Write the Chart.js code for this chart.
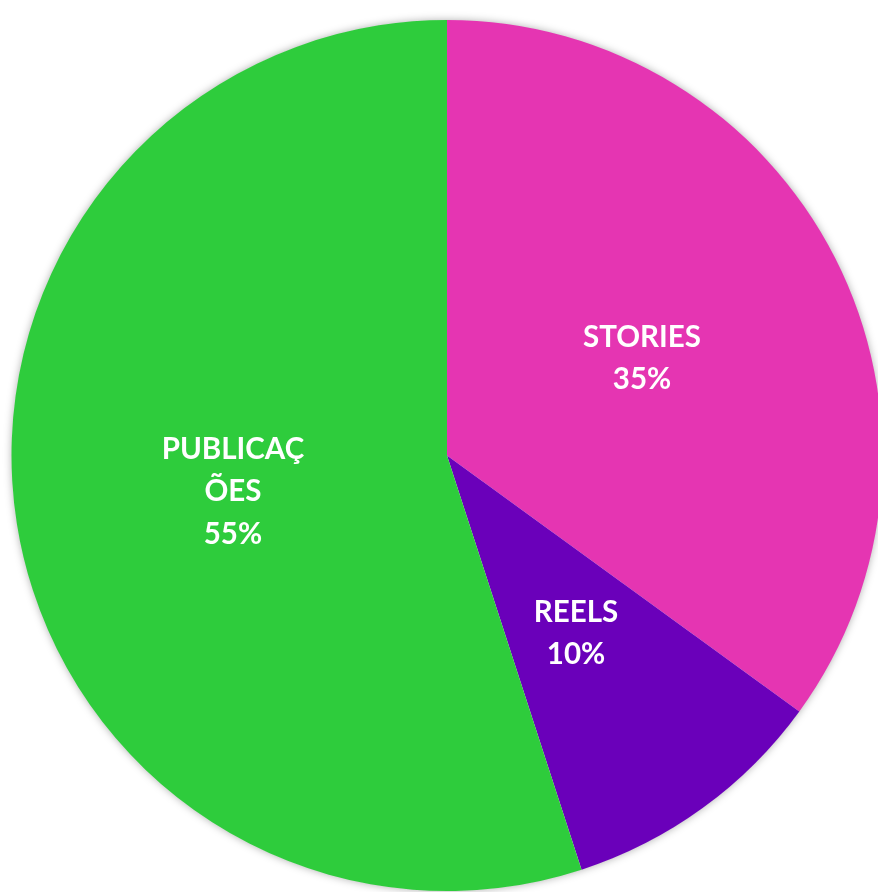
<!DOCTYPE html>
<html>
<head>
<meta charset="utf-8">
<script src="https://cdn.jsdelivr.net/npm/chart.js@4"></script>
<style>
html,body{margin:0;padding:0;background:#fff;overflow:hidden;}
#wrap{position:absolute;left:0;top:0;width:894px;height:892px;}
</style>
</head>
<body>
<div id="wrap"><canvas id="c" width="894" height="892"></canvas></div>
<script>
const categories = ['STORIES', 'REELS', 'PUBLICAÇÕES'];
const values = [35, 10, 55];
const colors = ['#E535B2', '#6A00BA', '#2ECC3C'];

function wrap(text, maxChars) {
  const out = [];
  for (let i = 0; i < text.length; i += maxChars) out.push(text.slice(i, i + maxChars));
  return out;
}

const shadowPlugin = {
  id: 'shadow',
  beforeDatasetsDraw(chart) {
    const arc = chart.getDatasetMeta(0).data[0];
    if (!arc) return;
    const ctx = chart.ctx;
    ctx.save();
    ctx.shadowColor = 'rgba(0,0,0,0.35)';
    ctx.shadowBlur = 8;
    ctx.fillStyle = '#ffffff';
    ctx.beginPath();
    ctx.arc(arc.x, arc.y, arc.outerRadius - 0.5, 0, Math.PI * 2);
    ctx.fill();
    ctx.restore();
  }
};

const labelPlugin = {
  id: 'sliceLabels',
  afterDatasetsDraw(chart) {
    const ctx = chart.ctx;
    const meta = chart.getDatasetMeta(0);
    const total = values.reduce((a, b) => a + b, 0);
    ctx.save();
    ctx.fillStyle = '#ffffff';
    ctx.font = 'bold 29.5px Lato, "Liberation Sans", sans-serif';
    ctx.textAlign = 'center';
    ctx.textBaseline = 'middle';
    const lh = 42.5;
    meta.data.forEach((arc, i) => {
      const p = arc.tooltipPosition();
      const lines = wrap(categories[i], 8);
      lines.push(Math.round(values[i] / total * 100) + '%');
      const startY = p.y + 2 - (lines.length - 1) * lh / 2;
      lines.forEach((ln, k) => ctx.fillText(ln, p.x + 1, startY + k * lh));
    });
    ctx.restore();
  }
};

new Chart(document.getElementById('c'), {
  type: 'pie',
  data: {
    labels: categories,
    datasets: [{
      data: values,
      backgroundColor: colors,
      borderWidth: 0
    }]
  },
  options: {
    responsive: false,
    animation: false,
    layout: { padding: { top: 20, bottom: 1, left: 0, right: 0 } },
    plugins: {
      legend: { display: false },
      tooltip: { enabled: false }
    }
  },
  plugins: [shadowPlugin, labelPlugin]
});
</script>
</body>
</html>
